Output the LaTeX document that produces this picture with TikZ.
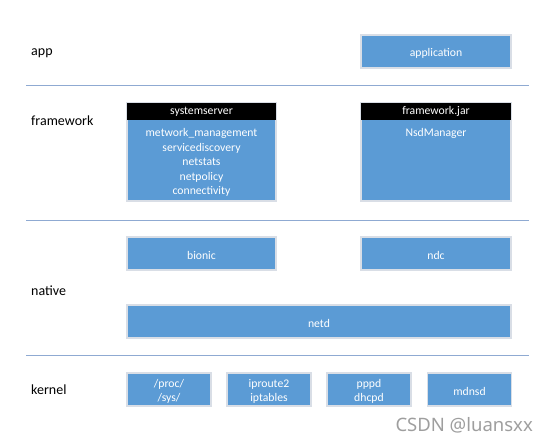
\documentclass[tikz,border=0pt]{standalone}
\usepackage{fontspec}
\setmainfont{Carlito}
\newfontfamily\wmfont{Noto Sans}
\definecolor{boxblue}{HTML}{5B9BD5}
\definecolor{boxedge}{HTML}{D9DEE6}
\definecolor{sepline}{HTML}{8FAAD2}
\definecolor{wmgray}{HTML}{9E9E9E}
\begin{document}
\begin{tikzpicture}[x=1pt,y=-1pt,
  blk/.style={fill=boxblue,draw=boxedge,line width=1.3pt,inner sep=0pt},
  txt/.style={text=white,font=\fontsize{11.7}{14.5}\selectfont,align=center,inner sep=0pt,yshift=-2pt},
  hdr/.style={fill=black,draw=none,inner sep=0pt,text=white,
    font=\fontsize{11.7}{14.5}\selectfont},
  lay/.style={anchor=west,font=\fontsize{14}{16}\selectfont,inner sep=0pt},
  sep/.style={draw=sepline,line width=1pt}]
\useasboundingbox (0,0) rectangle (548,443);
% layer labels
\node[lay] (lapp) at (31,53.5) {app};
\node[lay] (lfw) at (31,121) {framework};
\node[lay] (lnat) at (31,290.5) {native};
\node[lay] (lker) at (31,390) {kernel};
% separators
\draw[sep] (26,86) -- (529,86);
\draw[sep] (26,220.5) -- (529,220.5);
\draw[sep] (26,355.5) -- (529,355.5);
% app
\node[blk,minimum width=150pt,minimum height=33pt] (app) at (436,51.5) {};
\node[txt] (appt) at (app.center) {application};
% framework
\node[blk,minimum width=149pt,minimum height=98pt] (ss) at (201.5,152) {};
\node[hdr,minimum width=149pt,minimum height=17pt] (ssh) at (201.5,111.5) {\raisebox{-1.5pt}{systemserver}};
\node[txt,anchor=north,yshift=2pt] (sst) at (201.5,128.5)
  {metwork\_management\\servicediscovery\\netstats\\netpolicy\\connectivity};
\node[blk,minimum width=150pt,minimum height=98pt] (fj) at (436,152) {};
\node[hdr,minimum width=150pt,minimum height=17pt] (fjh) at (436,111.5) {\raisebox{-1.5pt}{framework.jar}};
\node[txt,anchor=north,yshift=2pt] (fjt) at (436,128.5) {NsdManager};
% native
\node[blk,minimum width=149pt,minimum height=33pt] (bionic) at (201.5,253.5) {};
\node[txt] (bionict) at (bionic.center) {bionic};
\node[blk,minimum width=150pt,minimum height=33pt] (ndc) at (436,253.5) {};
\node[txt] (ndct) at (ndc.center) {ndc};
\node[blk,minimum width=384pt,minimum height=33pt] (netd) at (319,321.5) {};
\node[txt] (netdt) at (netd.center) {netd};
% kernel
\node[blk,minimum width=84pt,minimum height=33pt] (proc) at (169,389.5) {};
\node[txt] (proct) at (proc.center) {/proc/\\/sys/};
\node[blk,minimum width=84pt,minimum height=33pt] (ipr) at (269,389.5) {};
\node[txt] (iprt) at (ipr.center) {iproute2\\iptables};
\node[blk,minimum width=84pt,minimum height=33pt] (ppp) at (369,389.5) {};
\node[txt] (pppt) at (ppp.center) {pppd\\dhcpd};
\node[blk,minimum width=84pt,minimum height=33pt] (mdn) at (469.5,389.5) {};
\node[txt] (mdnt) at (mdn.center) {mdnsd};
% watermark
\node[anchor=east,text=wmgray,font=\wmfont\fontsize{18.5}{20}\selectfont,inner sep=0pt] (wm) at (533,425) {CSDN @luansxx};
\end{tikzpicture}
\end{document}
